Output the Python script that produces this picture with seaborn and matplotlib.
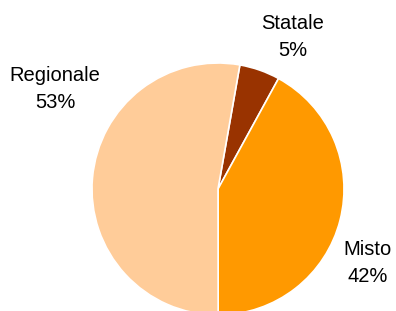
import matplotlib
matplotlib.use("Agg")
import matplotlib.pyplot as plt
import seaborn as sns

labels = ["Statale", "Misto", "Regionale"]
values = [5.2, 42.0, 52.8]
colors = ["#993300", "#FF9900", "#FFCC99"]

sns.set_theme(style="white")
plt.rcParams['font.family'] = ['Liberation Sans', 'DejaVu Sans']

fig = plt.figure(figsize=(3.96, 3.11), dpi=100)
# pie centre ~ (218,189) px, radius ~126 px
r_px = 126
ax = fig.add_axes([(218 - r_px) / 396, (311 - 189 - r_px) / 311, 2 * r_px / 396, 2 * r_px / 311])

wedges, _ = ax.pie(values, colors=colors, startangle=80, counterclock=False,
                   wedgeprops=dict(edgecolor="white", linewidth=1.2))
ax.set_xlim(-1, 1)
ax.set_ylim(-1, 1)
ax.set_aspect("auto")
ax.axis("off")

label_pos = {"Statale": (0.595, 1.206), "Misto": (1.19, -0.587), "Regionale": (-1.294, 0.794)}
for lab, v in zip(labels, values):
    x, y = label_pos[lab]
    ax.text(x, y, f"{lab}\n{round(v):d}%", ha="center", va="center", fontsize=14.5,
            linespacing=1.5, color="black", clip_on=False)

fig.savefig("out.png", dpi=100)
